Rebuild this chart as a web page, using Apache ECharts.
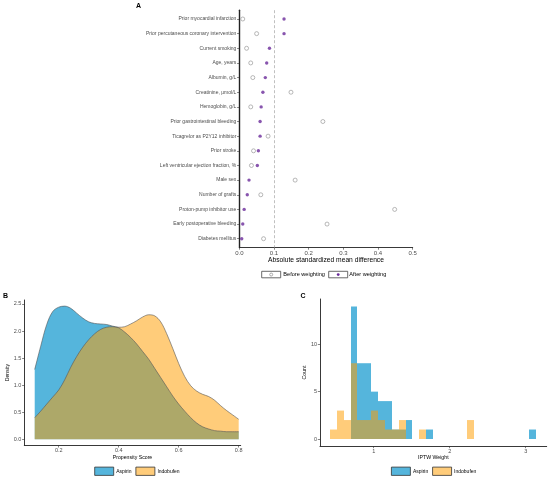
<!DOCTYPE html>
<html>
<head>
<meta charset="utf-8">
<script src="https://cdn.jsdelivr.net/npm/echarts@6/dist/echarts.min.js"></script>
<style>
  html, body { margin: 0; padding: 0; background: #fff; }
  #chart { width: 550px; height: 478px; }
</style>
</head>
<body>
<div id="chart"></div>
<script>
// Panel A: covariate balance (top to bottom)
const covariates = [
    'Prior myocardial infarction',
    'Prior percutaneous coronary intervention',
    'Current smoking',
    'Age, years',
    'Albumin, g/L',
    'Creatinine, μmol/L',
    'Hemoglobin, g/L',
    'Prior gastrointestinal bleeding',
    'Ticagrelor as P2Y12 inhibitor',
    'Prior stroke',
    'Left ventricular ejection fraction, %',
    'Male sex',
    'Number of grafts',
    'Proton-pump inhibitor use',
    'Early postoperative bleeding',
    'Diabetes mellitus'
];
const smdBefore = [0.010, 0.050, 0.021, 0.033, 0.039, 0.149, 0.033, 0.241, 0.083, 0.041, 0.035, 0.161, 0.062, 0.448, 0.253, 0.070];
const smdAfter = [0.129, 0.129, 0.087, 0.079, 0.075, 0.068, 0.063, 0.060, 0.060, 0.055, 0.052, 0.028, 0.023, 0.014, 0.010, 0.007];
const smdTicks = [0, 0.1, 0.2, 0.3, 0.4, 0.5];

// Panel B: propensity score density
const psScore = [0.12, 0.14, 0.16, 0.18, 0.20, 0.22, 0.24, 0.26, 0.28, 0.30, 0.32, 0.34, 0.36, 0.38, 0.40, 0.42, 0.44, 0.46,
                 0.48, 0.50, 0.52, 0.54, 0.56, 0.58, 0.60, 0.62, 0.64, 0.66, 0.68, 0.70, 0.72, 0.74, 0.76, 0.78, 0.80];
const aspirinDensity = [1.29, 1.72, 2.12, 2.36, 2.44, 2.46, 2.42, 2.33, 2.24, 2.17, 2.14, 2.13, 2.12, 2.09, 2.06, 1.98, 1.88, 1.76,
                        1.62, 1.48, 1.31, 1.14, 0.97, 0.80, 0.65, 0.52, 0.40, 0.30, 0.23, 0.19, 0.16, 0.15, 0.14, 0.14, 0.14];
const indobufenDensity = [0.40, 0.52, 0.65, 0.78, 0.91, 1.10, 1.33, 1.53, 1.70, 1.84, 1.95, 2.03, 2.07, 2.08, 2.07, 2.08, 2.13, 2.19,
                          2.26, 2.30, 2.28, 2.17, 1.95, 1.68, 1.40, 1.16, 0.99, 0.89, 0.83, 0.79, 0.72, 0.62, 0.53, 0.45, 0.37];
const psTicks = [0.2, 0.4, 0.6, 0.8];
const densityTicks = [0, 0.5, 1.0, 1.5, 2.0, 2.5];

// Panel C: IPTW weight histogram (30 bins)
const weightBinStart = 0.425;
const weightBinWidth = 0.0904;
const aspirinCounts = [0, 0, 0, 14, 8, 8, 5, 4, 4, 1, 1, 2, 0, 0, 1, 0, 0, 0, 0, 0, 0, 0, 0, 0, 0, 0, 0, 0, 0, 1];
const indobufenCounts = [1, 3, 2, 8, 2, 2, 3, 2, 1, 1, 2, 0, 0, 1, 0, 0, 0, 0, 0, 0, 2, 0, 0, 0, 0, 0, 0, 0, 0, 0];
const weightTicks = [1, 2, 3];
const countTicks = [0, 5, 10];

const BLUE = '#55b5dc';
const ORANGE = 'rgba(255,158,0,0.52)';
const PURPLE = '#6a2a9a';
const FONT = 'Liberation Sans, Arial, sans-serif';
const TICK_TEXT = '#4d4d4d';

function histData(counts) {
    return counts.map((c, i) => {
        const x0 = weightBinStart + i * weightBinWidth;
        return [x0, x0 + weightBinWidth, c];
    });
}

// snap bin edges to whole pixels so neighbouring bins meet without seams
function renderBin(params, api) {
    const p0 = api.coord([api.value(0), 0]);
    const p1 = api.coord([api.value(1), api.value(2)]);
    const x0 = Math.round(p0[0]);
    const x1 = Math.round(p1[0]);
    return {
        type: 'rect',
        shape: { x: x0, y: p1[1], width: x1 - x0, height: p0[1] - p1[1] },
        style: api.style()
    };
}

function xAxisBase(gridIndex, ticks, fmt, name, nameGap) {
    return {
        gridIndex: gridIndex,
        type: 'value',
        name: name,
        nameLocation: 'middle',
        nameGap: nameGap,
        nameTextStyle: { fontSize: 5.2, color: '#000', fontFamily: FONT },
        axisLine: { onZero: false, lineStyle: { color: '#222', width: 0.9 } },
        axisTick: { show: true, length: 2.2, customValues: ticks, lineStyle: { color: '#333', width: 0.6 } },
        axisLabel: { customValues: ticks, formatter: fmt, fontSize: 5.5, color: TICK_TEXT, margin: 2.5, fontFamily: FONT },
        splitLine: { show: false }
    };
}

function yAxisBase(gridIndex, ticks, fmt, name, nameGap) {
    return {
        gridIndex: gridIndex,
        type: 'value',
        name: name,
        nameLocation: 'middle',
        nameGap: nameGap,
        nameTextStyle: { fontSize: 5.2, color: '#000', fontFamily: FONT },
        axisLine: { show: true, onZero: false, lineStyle: { color: '#222', width: 0.9 } },
        axisTick: { show: true, length: 2.2, customValues: ticks, lineStyle: { color: '#333', width: 0.6 } },
        axisLabel: { customValues: ticks, formatter: fmt, fontSize: 5.5, color: TICK_TEXT, margin: 3, fontFamily: FONT },
        splitLine: { show: false }
    };
}

const chart = echarts.init(document.getElementById('chart'), null, { renderer: 'canvas' });

const xA = xAxisBase(0, smdTicks, v => v.toFixed(1), 'Absolute standardized mean difference', 6.5);
xA.min = 0;
xA.max = 0.5;
xA.nameTextStyle.fontSize = 6.7;
xA.axisLabel.fontSize = 6;

const yA = yAxisBase(0, covariates.map((c, i) => i), v => covariates[v], '', 0);
yA.min = -0.6;
yA.max = 15.6;
yA.inverse = true;
yA.axisLabel.fontSize = 5;
yA.axisLine.lineStyle.width = 1.4;

const xB = xAxisBase(1, psTicks, v => v.toFixed(1), 'Propensity Score', 8.5);
xB.min = 0.0853;
xB.max = 0.8067;
const yB = yAxisBase(1, densityTicks, v => v.toFixed(1), 'Density', 11);
yB.min = -0.111;
yB.max = 2.573;

const xC = xAxisBase(2, weightTicks, v => String(v), 'IPTW Weight', 8.5);
xC.min = 0.2934;
xC.max = 3.276;
const yC = yAxisBase(2, countTicks, v => String(v), 'Count', 7);
yC.min = -0.74;
yC.max = 14.78;

const legendText = { fontSize: 5, color: '#000', fontFamily: FONT, padding: [0, 0, 0, -2.5] };

function panelLegend(left) {
    return {
        data: ['Aspirin', 'Indobufen'],
        left: left, top: 466.7,
        padding: 0,
        icon: 'rect', itemWidth: 19, itemHeight: 8.3, itemGap: 4,
        itemStyle: { borderColor: '#333', borderWidth: 0.8 },
        textStyle: legendText,
        selectedMode: false
    };
}

chart.setOption({
    animation: false,
    backgroundColor: '#fff',
    textStyle: { fontFamily: FONT },
    grid: [
        { left: 239.3, top: 10.2, width: 173.4, height: 237.3 },
        { left: 24.3, top: 300, width: 216.4, height: 145.3 },
        { left: 320, top: 299, width: 226.7, height: 147 }
    ],
    xAxis: [xA, xB, xC],
    yAxis: [yA, yB, yC],
    legend: [panelLegend(94.3), panelLegend(391)],
    graphic: [
        { type: 'text', left: 136, top: 3, style: { text: 'A', fontSize: 7, fontWeight: 'bold', fill: '#000', fontFamily: FONT } },
        { type: 'text', left: 3, top: 292.5, style: { text: 'B', fontSize: 7, fontWeight: 'bold', fill: '#000', fontFamily: FONT } },
        { type: 'text', left: 300.5, top: 292.5, style: { text: 'C', fontSize: 7, fontWeight: 'bold', fill: '#000', fontFamily: FONT } },
        // legend for panel A
        { type: 'rect', shape: { x: 261.7, y: 271.3, width: 19, height: 6.5 }, style: { fill: '#fff', stroke: '#444', lineWidth: 0.8 } },
        { type: 'circle', shape: { cx: 271.2, cy: 274.55, r: 1.5 }, style: { fill: '#fff', stroke: '#888', lineWidth: 0.7 } },
        { type: 'text', left: 283.3, top: 271.6, style: { text: 'Before weighting', fontSize: 5.6, fill: '#000', fontFamily: FONT } },
        { type: 'rect', shape: { x: 328.7, y: 271.3, width: 19, height: 6.5 }, style: { fill: '#fff', stroke: '#444', lineWidth: 0.8 } },
        { type: 'circle', shape: { cx: 338.2, cy: 274.55, r: 1.4 }, style: { fill: PURPLE } },
        { type: 'text', left: 349.3, top: 271.6, style: { text: 'After weighting', fontSize: 5.6, fill: '#000', fontFamily: FONT } }
    ],
    series: [
        {
            name: 'Before weighting',
            type: 'scatter',
            xAxisIndex: 0, yAxisIndex: 0,
            symbol: 'circle',
            symbolSize: 4,
            itemStyle: { color: '#fff', borderColor: '#8a8a8a', borderWidth: 0.75 },
            data: smdBefore.map((v, i) => [v, i]),
            markLine: {
                silent: true,
                symbol: 'none',
                label: { show: false },
                lineStyle: { color: '#b0b0b0', type: [3, 2], width: 0.8 },
                data: [{ xAxis: 0.1 }]
            },
            z: 3
        },
        {
            name: 'After weighting',
            type: 'scatter',
            xAxisIndex: 0, yAxisIndex: 0,
            symbol: 'circle',
            symbolSize: 3.4,
            itemStyle: { color: PURPLE },
            data: smdAfter.map((v, i) => [v, i]),
            z: 4
        },
        {
            name: 'Aspirin',
            type: 'line',
            xAxisIndex: 1, yAxisIndex: 1,
            smooth: 0.35,
            showSymbol: false,
            color: BLUE,
            lineStyle: { color: '#555', width: 0.6 },
            areaStyle: { color: BLUE, opacity: 1, origin: 0 },
            data: psScore.map((x, i) => [x, aspirinDensity[i]])
        },
        {
            name: 'Indobufen',
            type: 'line',
            xAxisIndex: 1, yAxisIndex: 1,
            smooth: 0.35,
            showSymbol: false,
            color: ORANGE,
            lineStyle: { color: '#555', width: 0.6 },
            areaStyle: { color: ORANGE, opacity: 1, origin: 0 },
            data: psScore.map((x, i) => [x, indobufenDensity[i]])
        },
        {
            name: 'Aspirin',
            type: 'custom',
            xAxisIndex: 2, yAxisIndex: 2,
            renderItem: renderBin,
            itemStyle: { color: BLUE },
            encode: { x: [0, 1], y: 2 },
            data: histData(aspirinCounts)
        },
        {
            name: 'Indobufen',
            type: 'custom',
            xAxisIndex: 2, yAxisIndex: 2,
            renderItem: renderBin,
            itemStyle: { color: ORANGE },
            encode: { x: [0, 1], y: 2 },
            data: histData(indobufenCounts)
        }
    ]
});
</script>
</body>
</html>
